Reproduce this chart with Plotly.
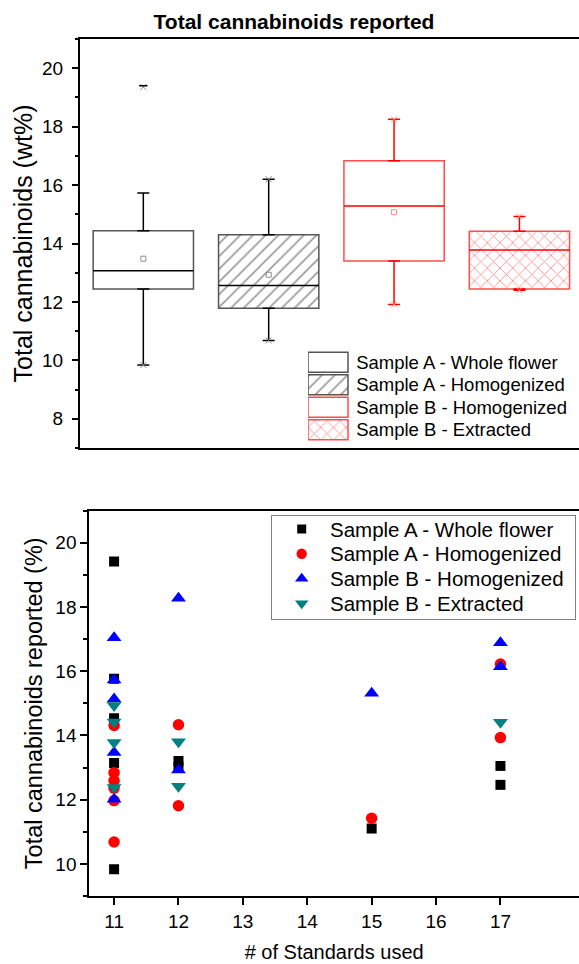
import plotly.graph_objects as go

# ---------------- data ----------------
groups = ["Sample A - Whole flower", "Sample A - Homogenized",
          "Sample B - Homogenized", "Sample B - Extracted"]

# box summary of total cannabinoids (wt%)
box_pos = [1, 2, 3, 4]
q1 = [12.44, 11.78, 13.40, 12.44]
median = [13.07, 12.56, 15.28, 13.78]
q3 = [14.44, 14.30, 16.83, 14.42]
whisker_lo = [9.84, 10.68, 11.91, 12.40]
whisker_hi = [15.73, 16.20, 18.25, 14.92]
means = [13.48, 12.93, 15.07, None]
data_min = [9.84, 10.68, 11.91, 12.40]
data_max = [19.36, 16.20, 18.25, 14.92]
pct99 = [19.40, None, None, None]

# individual results vs. number of standards used
std_AW = [11, 11, 11, 11, 11, 12, 12, 15, 17, 17]
val_AW = [19.41, 15.76, 14.53, 13.14, 9.83, 13.20, 13.02, 11.10, 13.05, 12.46]
std_AH = [11, 11, 11, 11, 11, 11, 12, 12, 15, 17, 17]
val_AH = [14.31, 12.84, 12.59, 12.36, 11.97, 10.68, 14.33, 11.81, 11.42, 16.22, 13.93]
std_BH = [11, 11, 11, 11, 11, 12, 12, 15, 17, 17]
val_BH = [17.04, 15.72, 15.13, 13.47, 12.01, 18.27, 12.92, 15.31, 16.88, 16.14]
std_BE = [11, 11, 11, 11, 12, 12, 17]
val_BE = [14.93, 14.42, 13.78, 12.38, 13.80, 12.42, 14.41]

std_ticks = [11, 12, 13, 14, 15, 16, 17]

# ---------------- styles ----------------
W, H = 579, 964
FONT = "Liberation Sans, Arial, Helvetica, sans-serif"
edge_col = ["#555555", "#555555", "#ff4d4d", "#ff4d4d"]
line_col = ["black", "black", "red", "red"]
soft_col = ["#8c8c8c", "#8c8c8c", "#ff8c8c", "#ff8c8c"]
hatch = ["", "/", "", "x"]
hatch_col = ["#333333", "#333333", "#ff1a1a", "#ff1a1a"]
BOX_W = 0.8


def px_x(p):
    return p / W


def px_y(p):
    return 1 - p / H


fig = go.Figure()

# ---------------- top panel: box summary ----------------
# whiskers (drawn under the boxes)
for i in range(len(box_pos)):
    common = dict(x=[box_pos[i]], mode="markers", showlegend=False,
                  hoverinfo="skip", xaxis="x", yaxis="y",
                  marker=dict(size=1, color="rgba(0,0,0,0)"))
    fig.add_trace(go.Scatter(
        y=[q3[i]], **common,
        error_y=dict(type="data", symmetric=False,
                     array=[whisker_hi[i] - q3[i]], arrayminus=[0],
                     color=line_col[i], thickness=1.5, width=6)))
    fig.add_trace(go.Scatter(
        y=[q1[i]], **common,
        error_y=dict(type="data", symmetric=False,
                     array=[0], arrayminus=[q1[i] - whisker_lo[i]],
                     color=line_col[i], thickness=1.5, width=6)))

box_marker = dict(color="white", line=dict(color=edge_col, width=1.5),
                  pattern=dict(shape=hatch, fgcolor=hatch_col, bgcolor="white",
                               size=9, solidity=0.18))

# interquartile boxes
fig.add_trace(go.Bar(
    x=box_pos, y=[b - a for a, b in zip(q1, q3)], base=q1, width=BOX_W,
    marker=box_marker, showlegend=False, hoverinfo="skip",
    xaxis="x", yaxis="y"))

# medians
for i in range(len(box_pos)):
    fig.add_trace(go.Scatter(
        x=[box_pos[i]], y=[median[i]], mode="markers",
        marker=dict(size=1, color="rgba(0,0,0,0)"),
        error_x=dict(type="data", array=[BOX_W / 2], symmetric=True,
                     color=line_col[i], thickness=1.5, width=0),
        showlegend=False, hoverinfo="skip", xaxis="x", yaxis="y"))

# means, min/max and 99th percentile marks
fig.add_trace(go.Scatter(
    x=box_pos, y=means, mode="markers",
    marker=dict(symbol="square-open", size=5, color=soft_col, line=dict(width=1)),
    showlegend=False, hoverinfo="skip", xaxis="x", yaxis="y"))
for vals in (data_min, data_max):
    fig.add_trace(go.Scatter(
        x=box_pos, y=vals, mode="markers",
        marker=dict(symbol="x-thin-open", size=6, color=soft_col,
                    line=dict(width=1, color=soft_col)),
        showlegend=False, hoverinfo="skip", xaxis="x", yaxis="y"))
fig.add_trace(go.Scatter(
    x=box_pos, y=pct99, mode="markers",
    marker=dict(symbol="line-ew-open", size=6, color=line_col,
                line=dict(width=1.5, color="black")),
    showlegend=False, hoverinfo="skip", xaxis="x", yaxis="y"))

# swatch key for the boxes
fig.add_trace(go.Bar(
    x=[1] * len(groups), y=groups, orientation="h", width=0.89,
    marker=box_marker,
    text=["\u00a0" + g for g in groups], textposition="outside",
    textfont=dict(size=18.5, color="black", family=FONT),
    constraintext="none", cliponaxis=False,
    showlegend=False, hoverinfo="skip", xaxis="x3", yaxis="y3"))

# ---------------- bottom panel: scatter ----------------
series = [
    (std_AW, val_AW, "square", "black", 10),
    (std_AH, val_AH, "circle", "red", 11.5),
    (std_BH, val_BH, "triangle-up", "blue", 13),
    (std_BE, val_BE, "triangle-down", "#008080", 13),
]
for (xs, ys, sym, col, size), name in zip(series, groups):
    fig.add_trace(go.Scatter(
        x=xs, y=ys, mode="markers", name=name, showlegend=False,
        marker=dict(symbol=sym, size=size, color=col, line=dict(width=0)),
        xaxis="x4", yaxis="y4"))

# symbol key for the scatter panel
for (xs, ys, sym, col, size), name in zip(series, groups):
    fig.add_trace(go.Scatter(
        x=[0], y=[name], mode="markers", showlegend=False, hoverinfo="skip",
        marker=dict(symbol=sym, size=size * 0.9, color=col, line=dict(width=0)),
        xaxis="x5", yaxis="y5", cliponaxis=False))

key_text = [dict(text=name, xref="x5", yref="y5", x=26, y=name,
                 xanchor="left", yanchor="middle", showarrow=False,
                 font=dict(size=20.5, color="black", family=FONT))
            for name in groups]

# ---------------- layout ----------------
tick_font = dict(size=19, color="black", family=FONT)
axis_line = dict(showline=True, linecolor="black", linewidth=2,
                 showgrid=False, zeroline=False)

fig.update_layout(
    width=W, height=H, margin=dict(l=0, r=0, t=0, b=0),
    paper_bgcolor="white", plot_bgcolor="white",
    font=dict(family=FONT, color="black"),
    barmode="overlay", showlegend=False,
    annotations=key_text,
    title=dict(text="<b>Total cannabinoids reported</b>", x=px_x(294),
               xanchor="center", y=px_y(22), yanchor="middle",
               font=dict(size=21, color="black", family=FONT)),
    xaxis=dict(domain=[px_x(80), 1], range=[0.495, 4.475], anchor="y",
               mirror=True, ticks="", showticklabels=False, **axis_line),
    yaxis=dict(domain=[px_y(448), px_y(39)], range=[7, 21], anchor="x",
               tick0=0, dtick=2, ticks="outside", ticklen=6, tickwidth=1.5,
               tickcolor="black", tickfont=tick_font, ticklabelstandoff=5,
               minor=dict(ticks="outside", ticklen=3, tickwidth=1.5,
                          dtick=1, tick0=0, tickcolor="black"),
               title=dict(text="Total cannabinoids (wt%)", standoff=2,
                          font=dict(size=25, color="black", family=FONT)),
               automargin=False, **axis_line),
    yaxis2=dict(overlaying="y", side="right", anchor="x", range=[7, 21],
                tick0=0, dtick=2, ticks="inside", ticklen=5, tickwidth=1.5,
                tickcolor="black", showticklabels=False, showline=False,
                showgrid=False, zeroline=False,
                minor=dict(ticks="inside", ticklen=2, tickwidth=1.5,
                           dtick=1, tick0=0, tickcolor="black")),
    xaxis3=dict(domain=[px_x(308), 1], range=[0, 271 / 40], anchor="y3",
                visible=False, fixedrange=True),
    yaxis3=dict(domain=[px_y(441), px_y(351)], range=[3.5, -0.5],
                anchor="x3", visible=False, type="category",
                categoryorder="array", categoryarray=groups, fixedrange=True),
    xaxis4=dict(domain=[px_x(89.3), 1], range=[10.615, 18.22], anchor="y4",
                tickvals=std_ticks, ticks="outside", ticklen=7, tickwidth=1.5,
                tickcolor="black", tickfont=tick_font, mirror=True,
                title=dict(text="# of Standards used", standoff=14,
                           font=dict(size=20, color="black", family=FONT)),
                automargin=False, **axis_line),
    yaxis4=dict(domain=[px_y(896), px_y(510.5)], range=[9, 21], anchor="x4",
                tick0=0, dtick=2, ticks="outside", ticklen=7, tickwidth=1.5,
                tickcolor="black", tickfont=tick_font,
                minor=dict(ticks="outside", ticklen=4, tickwidth=1.5,
                           dtick=1, tick0=0, tickcolor="black"),
                title=dict(text="Total cannabinoids reported (%)", standoff=6,
                           font=dict(size=23.5, color="black", family=FONT)),
                automargin=False, **axis_line),
    # framed key box for the scatter panel
    xaxis5=dict(domain=[px_x(271.7), px_x(575)], range=[-30, 273.3],
                anchor="y5", showline=True, mirror=True, linecolor="#808080",
                linewidth=1, ticks="", showticklabels=False, showgrid=False,
                zeroline=False, fixedrange=True),
    yaxis5=dict(domain=[px_y(619), px_y(516)], range=[3.629, -0.524],
                anchor="x5", type="category", categoryorder="array",
                categoryarray=groups, showline=True, mirror=True,
                linecolor="#808080", linewidth=1, ticks="",
                showticklabels=False, showgrid=False, zeroline=False,
                fixedrange=True),
)

fig.write_html("out.html")
